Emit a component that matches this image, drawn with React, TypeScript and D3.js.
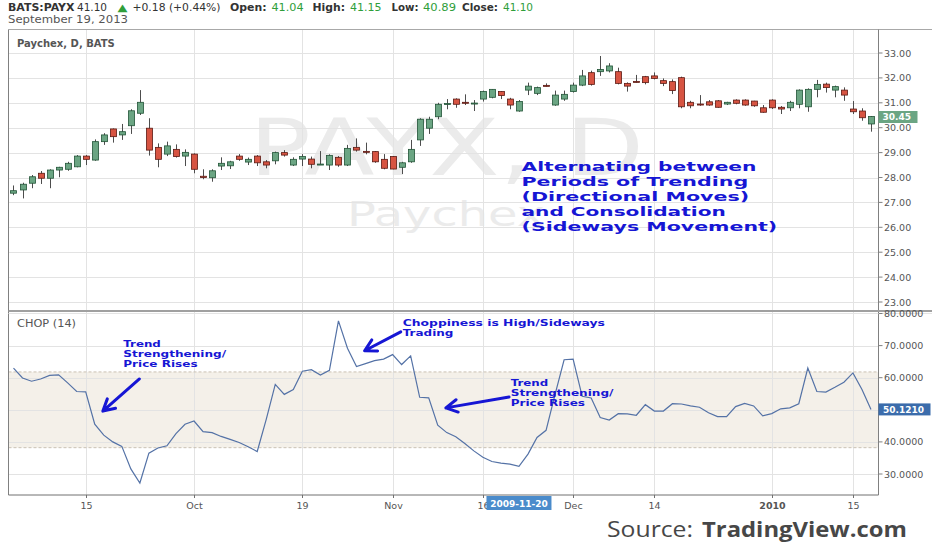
import React from "react";
import * as d3 from "d3";

// trading days shown on the chart
const dates = [
  "2009-09-02", "2009-09-03", "2009-09-04", "2009-09-08", "2009-09-09", "2009-09-10", "2009-09-11",
  "2009-09-14", "2009-09-15", "2009-09-16", "2009-09-17", "2009-09-18", "2009-09-21", "2009-09-22",
  "2009-09-23", "2009-09-24", "2009-09-25", "2009-09-28", "2009-09-29", "2009-09-30",
  "2009-10-01", "2009-10-02", "2009-10-05", "2009-10-06", "2009-10-07", "2009-10-08", "2009-10-09",
  "2009-10-12", "2009-10-13", "2009-10-14", "2009-10-15", "2009-10-16", "2009-10-19", "2009-10-20",
  "2009-10-21", "2009-10-22", "2009-10-23", "2009-10-26", "2009-10-27", "2009-10-28", "2009-10-29",
  "2009-10-30",
  "2009-11-02", "2009-11-03", "2009-11-04", "2009-11-05", "2009-11-06", "2009-11-09", "2009-11-10",
  "2009-11-11", "2009-11-12", "2009-11-13", "2009-11-16", "2009-11-17", "2009-11-18", "2009-11-19",
  "2009-11-20", "2009-11-23", "2009-11-24", "2009-11-25", "2009-11-27", "2009-11-30",
  "2009-12-01", "2009-12-02", "2009-12-03", "2009-12-04", "2009-12-07", "2009-12-08", "2009-12-09",
  "2009-12-10", "2009-12-11", "2009-12-14", "2009-12-15", "2009-12-16", "2009-12-17", "2009-12-18",
  "2009-12-21", "2009-12-22", "2009-12-23", "2009-12-24", "2009-12-28", "2009-12-29", "2009-12-30",
  "2009-12-31",
  "2010-01-04", "2010-01-05", "2010-01-06", "2010-01-07", "2010-01-08", "2010-01-11", "2010-01-12",
  "2010-01-13", "2010-01-14", "2010-01-15", "2010-01-19", "2010-01-20",
];

const opens = [
  27.37, 27.5, 27.77, 28.17, 27.97, 28.3, 28.33, 28.43, 28.86, 28.7, 29.44, 29.95, 29.71, 30.08, 30.58,
  29.98, 29.21, 28.94, 29.13, 28.86, 28.94, 28.05, 27.99, 28.46, 28.47, 28.86, 28.62, 28.86, 28.63, 28.67,
  29.0, 28.5, 28.74, 28.74, 28.51, 28.5, 28.81, 28.5, 29.21, 29.05, 29.04, 28.73, 28.84, 28.41, 28.63,
  29.51, 29.98, 30.44, 30.94, 31.15, 31.02, 30.96, 31.15, 31.22, 31.45, 31.15, 30.67, 31.51, 31.38, 31.7,
  30.91, 31.15, 31.45, 31.71, 32.21, 32.25, 32.28, 32.25, 31.78, 31.86, 32.05, 32.08, 31.89, 31.85, 32.01,
  31.02, 30.95, 31.04, 31.08, 30.95, 31.11, 31.11, 31.07, 30.8, 31.11, 30.82, 30.8, 30.94, 30.84, 31.54,
  31.75, 31.51, 31.51, 30.75, 30.67, 30.15,
];
const highs = [
  27.68, 27.79, 28.1, 28.26, 28.33, 28.43, 28.63, 28.9, 28.9, 29.53, 29.78, 29.97, 30.15, 30.74, 31.51,
  30.38, 29.37, 29.44, 29.33, 29.13, 28.97, 28.33, 28.33, 28.81, 28.67, 28.94, 28.8, 28.9, 28.7, 29.04,
  29.1, 28.81, 28.94, 28.84, 29.06, 28.93, 28.86, 29.31, 29.57, 29.4, 29.06, 28.94, 28.86, 28.63, 29.51,
  30.38, 30.44, 31.0, 31.15, 31.18, 31.34, 31.11, 31.49, 31.55, 31.47, 31.2, 31.11, 31.81, 31.65, 31.78,
  31.49, 31.49, 31.81, 32.32, 32.29, 32.88, 32.59, 32.41, 31.82, 32.12, 32.08, 32.22, 31.98, 31.94, 32.05,
  31.08, 31.31, 31.11, 31.11, 31.04, 31.14, 31.14, 31.08, 30.91, 31.14, 30.87, 31.08, 31.54, 31.58, 31.92,
  31.81, 31.69, 31.62, 31.07, 30.78, 30.47,
];
const lows = [
  27.29, 27.16, 27.57, 27.74, 27.57, 28.01, 28.27, 28.41, 28.5, 28.67, 29.31, 29.4, 29.51, 29.75, 30.51,
  28.88, 28.41, 28.86, 28.8, 28.46, 28.17, 27.93, 27.83, 28.3, 28.34, 28.67, 28.5, 28.46, 28.37, 28.53,
  28.84, 28.46, 28.46, 28.37, 28.5, 28.3, 28.43, 28.46, 29.04, 28.93, 28.59, 28.33, 28.33, 28.14, 28.59,
  29.27, 29.75, 30.34, 30.74, 30.8, 30.91, 30.67, 31.05, 31.18, 31.15, 30.74, 30.64, 31.31, 31.31, 31.65,
  30.88, 31.08, 31.41, 31.67, 31.69, 32.08, 32.22, 31.74, 31.45, 31.81, 31.74, 31.94, 31.67, 31.35, 30.78,
  30.78, 30.88, 30.88, 30.8, 30.91, 30.94, 30.88, 30.84, 30.6, 30.75, 30.55, 30.67, 30.78, 30.64, 31.22,
  31.41, 31.22, 31.08, 30.55, 30.28, 29.84,
];
const closes = [
  27.47, 27.73, 28.03, 27.97, 28.3, 28.41, 28.57, 28.86, 28.73, 29.44, 29.71, 29.64, 29.84, 30.68, 31.02,
  29.1, 28.73, 29.27, 28.84, 29.01, 28.33, 28.0, 28.27, 28.57, 28.63, 28.73, 28.73, 28.59, 28.5, 29.0,
  28.9, 28.73, 28.84, 28.53, 28.54, 28.88, 28.5, 29.17, 29.1, 29.03, 28.63, 28.37, 28.34, 28.59, 29.13,
  30.34, 30.34, 30.94, 30.97, 30.94, 30.98, 30.99, 31.45, 31.54, 31.29, 30.91, 31.05, 31.67, 31.61, 31.68,
  31.31, 31.34, 31.71, 32.08, 31.74, 32.34, 32.48, 31.78, 31.67, 31.83, 31.81, 31.98, 31.78, 31.49, 30.84,
  30.88, 30.93, 30.91, 30.82, 31.02, 30.98, 30.91, 30.88, 30.62, 30.8, 30.75, 31.02, 31.51, 31.54, 31.74,
  31.61, 31.65, 31.31, 30.64, 30.4, 30.45,
];

// Choppiness Index (14)
const chop = [
  63.0, 59.9, 58.9, 59.6, 60.7, 60.9, 58.4, 55.7, 55.6, 45.5, 42.1, 40.0, 38.6, 31.6, 27.2, 36.5, 38.1,
  38.8, 42.6, 45.5, 46.5, 43.2, 42.9, 41.7, 40.8, 39.8, 38.5, 37.0, 47.0, 57.9, 54.8, 56.3, 62.0, 62.5,
  60.8, 62.3, 77.7, 69.2, 63.5, 64.4, 65.3, 65.8, 67.2, 64.1, 66.8, 53.9, 53.7, 45.2, 42.9, 41.6, 39.5,
  37.2, 35.2, 33.9, 33.4, 33.1, 32.4, 36.2, 41.4, 43.6, 54.8, 65.6, 65.8, 54.2, 53.7, 47.6, 46.8, 48.8,
  48.7, 48.3, 51.6, 49.6, 49.6, 51.9, 51.8, 51.2, 50.8, 49.1, 47.9, 47.9, 51.0, 52.0, 51.2, 48.1, 48.8,
  50.3, 50.6, 51.9, 63.0, 55.7, 55.5, 57.0, 58.6, 61.5, 56.3, 50.121,
];

const priceTicks = [23, 24, 25, 26, 27, 28, 29, 30, 31, 32, 33];
const chopTicks = [30, 40, 50, 60, 70, 80];
const chopBand = [38.2, 61.8];
const dateTicks = [
  "2009-09-15", "2009-10-01", "2009-10-19", "2009-11-02", "2009-11-16",
  "2009-12-01", "2009-12-14", "2010-01-04", "2010-01-15",
];
const dateTickLabels = ["15", "Oct", "19", "Nov", "16", "Dec", "14", "2010", "15"];
const crosshairDate = "2009-11-20";

const headerParts = [
  "BATS:PAYX", "41.10", "\u25B2", "+0.18 (+0.44%)", "Open:", "41.04",
  "High:", "41.15", "Low:", "40.89", "Close:", "41.10",
];

const bigNote = [
  "Alternating between",
  "Periods of Trending",
  "(Directional Moves)",
  "and Consolidation",
  "(Sideways Movement)",
];
const trendNote = ["Trend", "Strengthening/", "Price Rises"];
const chopNote = ["Choppiness is High/Sideways", "Trading"];

// arrows in data coordinates: [trading day index, CHOP value]
const arrowTails: [number, number][] = [[13.95, 59.6], [42.9, 74.3], [54.9, 54.0]];
const arrowHeads: [number, number][] = [[9.9, 49.6], [38.9, 68.4], [47.9, 50.6]];

const FONT = "DejaVu Sans";
const BLUE = "#1616d4";
const UP = { fill: "#6ba583", stroke: "#225437" };
const DOWN = { fill: "#d75442", stroke: "#5b1a13" };

const App: React.FC = () => {
  const svgRef = React.useRef<SVGSVGElement>(null);

  React.useEffect(() => {
    if (!svgRef.current) return;
    const svg = d3.select(svgRef.current);
    svg.selectAll("*").remove();

    const left = 8.5;
    const right = 878.5;
    const paneTop = 29.5;
    const paneSplit = 311;
    const bottom = 495;

    const x = d3.scalePoint<string>().domain(dates).range([13.5, 871]);
    const xi = d3.scaleLinear().domain([0, dates.length - 1]).range([13.5, 871]);
    const yP = d3.scaleLinear().domain([23, 33]).range([302, 53]);
    const yC = d3.scaleLinear().domain([30, 80]).range([474, 313.5]);

    svg.append("rect").attr("width", 932).attr("height", 550).attr("fill", "#fff");

    // watermark
    svg.append("text")
      .attr("x", 249).attr("y", 175)
      .attr("font-family", FONT).attr("font-size", 78)
      .attr("textLength", 395).attr("lengthAdjust", "spacingAndGlyphs")
      .attr("fill", "#ebebeb").text("PAYX, D");
    svg.append("text")
      .attr("x", 347).attr("y", 225.5)
      .attr("font-family", FONT).attr("font-size", 34)
      .attr("textLength", 198).attr("lengthAdjust", "spacingAndGlyphs")
      .attr("fill", "#ebebeb").text("Paychex");

    // CHOP band
    svg.append("rect")
      .attr("x", left).attr("width", right - left)
      .attr("y", yC(chopBand[1])).attr("height", yC(chopBand[0]) - yC(chopBand[1]))
      .attr("fill", "#f4f0e9");

    const grid = svg.append("g").attr("stroke", "#e3e3e3").attr("stroke-width", 1);
    priceTicks.forEach(t => {
      grid.append("line").attr("x1", left).attr("x2", right)
        .attr("y1", Math.round(yP(t)) + 0.5).attr("y2", Math.round(yP(t)) + 0.5);
    });
    chopTicks.filter(t => t < 80).forEach(t => {
      grid.append("line").attr("x1", left).attr("x2", right)
        .attr("y1", Math.round(yC(t)) + 0.5).attr("y2", Math.round(yC(t)) + 0.5);
    });
    dateTicks.forEach(d => {
      const xx = Math.round(x(d)!) + 0.5;
      grid.append("line").attr("x1", xx).attr("x2", xx).attr("y1", paneTop).attr("y2", bottom);
    });

    chopBand.forEach(v => {
      svg.append("line").attr("x1", left).attr("x2", right)
        .attr("y1", yC(v)).attr("y2", yC(v))
        .attr("stroke", "#c9c1b3").attr("stroke-dasharray", "3,2");
    });

    // candles
    const candles = svg.append("g");
    dates.forEach((d, i) => {
      const o = opens[i], c = closes[i];
      const col = c >= o ? UP : DOWN;
      const cx = Math.round(x(d)!) + 0.5;
      candles.append("line")
        .attr("x1", cx).attr("x2", cx)
        .attr("y1", yP(highs[i])).attr("y2", yP(lows[i]))
        .attr("stroke", "#4d4d4d").attr("stroke-width", 1);
      const top = yP(Math.max(o, c));
      const h = Math.max(1, yP(Math.min(o, c)) - top);
      candles.append("rect")
        .attr("x", cx - 3).attr("width", 6)
        .attr("y", top).attr("height", h)
        .attr("fill", col.fill).attr("stroke", col.stroke).attr("stroke-width", 0.8);
    });

    // CHOP line
    const line = d3.line<number>().x((_, i) => x(dates[i])!).y(v => yC(v));
    svg.append("path").datum(chop)
      .attr("fill", "none").attr("stroke", "#5472a6").attr("stroke-width", 1.2)
      .attr("d", line);

    // frame
    const frame = svg.append("g").attr("fill", "none");
    frame.append("line").attr("x1", left).attr("x2", 932).attr("y1", paneTop).attr("y2", paneTop)
      .attr("stroke", "#a8a8a8");
    frame.append("line").attr("x1", left).attr("x2", left).attr("y1", paneTop).attr("y2", bottom)
      .attr("stroke", "#808080");
    frame.append("line").attr("x1", right).attr("x2", right).attr("y1", paneTop).attr("y2", bottom)
      .attr("stroke", "#808080");
    frame.append("line").attr("x1", left).attr("x2", right).attr("y1", bottom).attr("y2", bottom)
      .attr("stroke", "#707070");
    frame.append("line").attr("x1", left).attr("x2", 932).attr("y1", paneSplit).attr("y2", paneSplit)
      .attr("stroke", "#a0a0a0").attr("stroke-width", 2);
    frame.append("line").attr("x1", left).attr("x2", 932).attr("y1", paneSplit + 2.5).attr("y2", paneSplit + 2.5)
      .attr("stroke", "#e4e4e4");

    // right axes
    const axisTxt = (g: d3.Selection<SVGGElement, unknown, null, undefined>) =>
      g.attr("font-family", FONT).attr("font-size", 9.5).attr("fill", "#555");
    const pAxis = svg.append("g").call(axisTxt);
    priceTicks.forEach(t => {
      pAxis.append("line").attr("x1", right).attr("x2", right + 4)
        .attr("y1", yP(t)).attr("y2", yP(t)).attr("stroke", "#808080");
      pAxis.append("text").attr("x", 884).attr("y", yP(t) + 3.5).text(t.toFixed(2));
    });
    const cAxis = svg.append("g").call(axisTxt);
    chopTicks.forEach(t => {
      cAxis.append("line").attr("x1", right).attr("x2", right + 4)
        .attr("y1", yC(t)).attr("y2", yC(t)).attr("stroke", "#808080");
      cAxis.append("text").attr("x", 884).attr("y", yC(t) + 3.5).text(t.toFixed(4));
    });

    // last value labels
    const lastClose = closes[closes.length - 1];
    svg.append("rect").attr("x", right).attr("y", yP(lastClose) - 5.5)
      .attr("width", 39).attr("height", 12).attr("fill", UP.fill);
    svg.append("text").attr("x", right + 4).attr("y", yP(lastClose) + 4)
      .attr("font-family", FONT).attr("font-size", 9).attr("font-weight", "bold")
      .attr("fill", "#fff").text(lastClose.toFixed(2));
    const lastChop = chop[chop.length - 1];
    svg.append("rect").attr("x", right).attr("y", yC(lastChop) - 6)
      .attr("width", 52).attr("height", 12).attr("fill", "#3b6cab");
    svg.append("text").attr("x", right + 4.5).attr("y", yC(lastChop) + 3.5)
      .attr("font-family", FONT).attr("font-size", 9).attr("font-weight", "bold")
      .attr("fill", "#fff").text(lastChop.toFixed(4));

    // date axis
    const dAxis = svg.append("g").attr("font-family", FONT).attr("font-size", 9.5)
      .attr("fill", "#555").attr("text-anchor", "middle");
    dateTicks.forEach((d, i) => {
      const xx = Math.round(x(d)!) + 0.5;
      dAxis.append("line").attr("x1", xx).attr("x2", xx).attr("y1", bottom).attr("y2", bottom + 3)
        .attr("stroke", "#707070");
      dAxis.append("text").attr("x", xx).attr("y", 508.5)
        .attr("font-weight", dateTickLabels[i] === "2010" ? "bold" : "normal")
        .text(dateTickLabels[i]);
    });
    const cx = x(crosshairDate)!;
    svg.append("rect").attr("x", cx - 32.5).attr("y", 496).attr("width", 65).attr("height", 14)
      .attr("fill", "#4a8bcb");
    svg.append("text").attr("x", cx).attr("y", 506.5).attr("text-anchor", "middle")
      .attr("font-family", FONT).attr("font-size", 9).attr("font-weight", "bold")
      .attr("fill", "#fff").text(crosshairDate);

    // pane titles
    svg.append("text").attr("x", 17).attr("y", 46.5)
      .attr("font-family", FONT).attr("font-size", 10).attr("font-weight", "bold")
      .attr("fill", "#555").text("Paychex, D, BATS");
    svg.append("text").attr("x", 17).attr("y", 327)
      .attr("font-family", FONT).attr("font-size", 10.5)
      .attr("textLength", 59).attr("lengthAdjust", "spacingAndGlyphs")
      .attr("fill", "#555").text("CHOP (14)");

    // header
    const headerX = [8, 77, 117.5, 132.5, 230, 271.5, 312.5, 350, 391.5, 423, 462, 503];
    const headerW = [66.5, 30, 10, 88, 36.5, 32, 32.5, 31.5, 27, 33, 36, 30];
    const header = svg.append("g").attr("font-family", FONT).attr("font-size", 10);
    headerParts.forEach((t, i) => {
      const isLabel = i === 0 || (i >= 4 && i % 2 === 0);
      const isGreen = i === 2 || (i >= 5 && i % 2 === 1);
      header.append("text").attr("x", headerX[i]).attr("y", 10.5)
        .attr("font-weight", isLabel ? "bold" : "normal")
        .attr("textLength", headerW[i]).attr("lengthAdjust", "spacingAndGlyphs")
        .attr("fill", isGreen ? "#2f9e3a" : "#333").text(t);
    });
    svg.append("text").attr("x", 8).attr("y", 23)
      .attr("font-family", FONT).attr("font-size", 10.5).attr("fill", "#555")
      .attr("textLength", 120).attr("lengthAdjust", "spacingAndGlyphs")
      .text("September 19, 2013");

    // annotations
    const notes = svg.append("g").attr("font-family", FONT).attr("font-weight", "bold").attr("fill", BLUE);
    const bigW = [235, 226.7, 227.7, 204.3, 255.7];
    bigNote.forEach((t, i) => {
      notes.append("text").attr("x", 521.5).attr("y", 170.5 + i * 15.2)
        .attr("font-size", 13).attr("textLength", bigW[i]).attr("lengthAdjust", "spacingAndGlyphs")
        .text(t);
    });
    const trendW = [37.5, 102.8, 74.3];
    [[123.3, 347.2], [510.7, 385.8]].forEach(([tx, ty]) => {
      trendNote.forEach((t, i) => {
        notes.append("text").attr("x", tx).attr("y", ty + i * 9.9)
          .attr("font-size", 8.5).attr("textLength", trendW[i]).attr("lengthAdjust", "spacingAndGlyphs")
          .text(t);
      });
    });
    const chopW = [202.3, 50.7];
    chopNote.forEach((t, i) => {
      notes.append("text").attr("x", 402.7).attr("y", 326.3 + i * 9.9)
        .attr("font-size", 8.5).attr("textLength", chopW[i]).attr("lengthAdjust", "spacingAndGlyphs")
        .text(t);
    });

    // arrows
    const arrowG = svg.append("g").attr("stroke", BLUE).attr("stroke-width", 3)
      .attr("fill", "none").attr("stroke-linecap", "round").attr("stroke-linejoin", "round");
    arrowTails.forEach((tail, i) => {
      const head = arrowHeads[i];
      const x1 = xi(tail[0]), y1 = yC(tail[1]);
      const x2 = xi(head[0]), y2 = yC(head[1]);
      const ang = Math.atan2(y1 - y2, x1 - x2);
      const len = 13;
      const a1 = ang + 0.5, a2 = ang - 0.5;
      const p = d3.path();
      p.moveTo(x1, y1);
      p.lineTo(x2, y2);
      p.moveTo(x2 + len * Math.cos(a1), y2 + len * Math.sin(a1));
      p.lineTo(x2, y2);
      p.lineTo(x2 + len * Math.cos(a2), y2 + len * Math.sin(a2));
      arrowG.append("path").attr("d", p.toString());
    });

    // source
    const src = svg.append("text").attr("y", 537).attr("font-family", "Open Sans")
      .attr("font-size", 21).attr("fill", "#474747");
    src.append("tspan").attr("x", 607).attr("textLength", 86)
      .attr("lengthAdjust", "spacingAndGlyphs").text("Source:");
    src.append("tspan").attr("x", 702).attr("font-weight", "bold")
      .attr("textLength", 205).attr("lengthAdjust", "spacingAndGlyphs").text("TradingView.com");
  }, []);

  return (
    <svg
      ref={svgRef}
      width={932}
      height={550}
      style={{ position: "absolute", left: 0, top: 0 }}
    />
  );
};

export default App;
